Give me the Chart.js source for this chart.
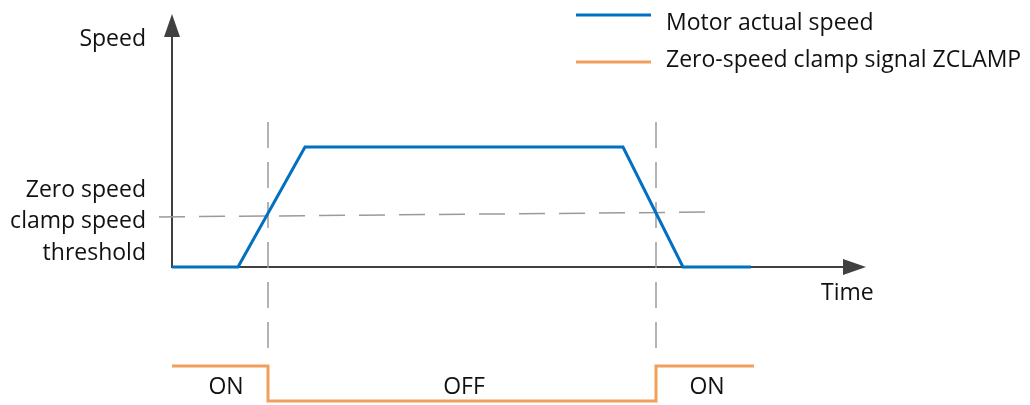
<!DOCTYPE html>
<html>
<head>
<meta charset="utf-8">
<title>Zero-speed clamp</title>
<script src="https://cdn.jsdelivr.net/npm/chart.js@4/dist/chart.umd.min.js"></script>
<style>
  html, body { margin: 0; padding: 0; background: #fff; }
  #wrap { width: 1030px; height: 405px; }
</style>
</head>
<body>
<div id="wrap"><canvas id="chart" width="1030" height="405"></canvas></div>
<script>
"use strict";

// Motor speed profile (time in arbitrary units, speed in % of plateau)
const speedTimes = [0, 6.6, 13.3, 45.1, 51.1, 57.9];
const speedValues = [0, 0, 100, 100, 0, 0];

// ZCLAMP signal, 1 = ON, 0 = OFF
const clampTimes = [0, 9.6, 9.6, 48.4, 48.4, 58.2];
const clampStates = [1, 1, 0, 0, 1, 1];
const clampLabels = ["ON", "OFF", "ON"];

// Zero speed clamp threshold (drawn slightly tilted in the original)
const thresholdTimes = [-1.3, 54.0];
const thresholdValues = [41.7, 45.8];

// Vertical guides where the speed crosses the threshold
const markerTimes = [9.6, 48.4];
const markerSpeedRange = [120.8, -70.8];

const seriesLabels = ["Motor actual speed", "Zero-speed clamp signal ZCLAMP"];

// Axis ends (arrow tips)
const timeAxisEnd = 69.4;
const speedAxisEnd = 210.8;

const COLORS = {
  speed: "#0070c0",
  clamp: "#f0a05a",
  guide: "#9a9a9a",
  axis: "#404040",
  text: "#111111",
};
const FONT = "23px 'Open Sans', sans-serif";

function toPoints(xs, ys) {
  return xs.map((x, i) => ({ x, y: ys[i] }));
}

/**
 * Axes with arrow heads, drawn under the datasets
 */
const axesPlugin = {
  id: "axes",
  beforeDatasetsDraw(chart) {
    const { ctx } = chart;
    const xs = chart.scales.x;
    const ys = chart.scales.y;
    const x0 = xs.getPixelForValue(0);
    const y0 = ys.getPixelForValue(0);
    const xTip = xs.getPixelForValue(timeAxisEnd);
    const yTip = ys.getPixelForValue(speedAxisEnd);
    const head = 23;
    const half = 8;

    ctx.save();
    ctx.strokeStyle = COLORS.axis;
    ctx.fillStyle = COLORS.axis;
    ctx.lineWidth = 2;
    ctx.beginPath();
    ctx.moveTo(x0, y0 + 1);
    ctx.lineTo(x0, yTip + head);
    ctx.moveTo(x0, y0);
    ctx.lineTo(xTip - head, y0);
    ctx.stroke();

    ctx.beginPath();
    ctx.moveTo(x0, yTip);
    ctx.lineTo(x0 - half, yTip + head);
    ctx.lineTo(x0 + half, yTip + head);
    ctx.closePath();
    ctx.fill();

    ctx.beginPath();
    ctx.moveTo(xTip, y0);
    ctx.lineTo(xTip - head, y0 - half);
    ctx.lineTo(xTip - head, y0 + half);
    ctx.closePath();
    ctx.fill();
    ctx.restore();
  },
};

/**
 * Text annotations and the legend
 */
const labelsPlugin = {
  id: "labels",
  afterDatasetsDraw(chart) {
    const { ctx } = chart;
    const xs = chart.scales.x;
    ctx.save();
    ctx.font = FONT;
    ctx.fillStyle = COLORS.text;
    ctx.textBaseline = "alphabetic";

    // y axis texts
    ctx.textAlign = "right";
    ctx.fillText("Speed", 146, 46);
    ctx.fillText("Zero speed", 146, 197);
    ctx.fillText("clamp speed", 146, 228);
    ctx.fillText("threshold", 146, 260);

    ctx.textAlign = "left";
    ctx.fillText("Time", 821, 300);

    // ON / OFF state labels, centred in each segment
    ctx.textAlign = "center";
    const edges = [clampTimes[0], clampTimes[1], clampTimes[3], clampTimes[5]];
    clampLabels.forEach((txt, i) => {
      const mid = (edges[i] + edges[i + 1]) / 2;
      ctx.fillText(txt, xs.getPixelForValue(mid) + (i === 0 ? 6 : 2), 394);
    });

    // legend
    const legendRows = [
      { color: COLORS.speed, y: 15, base: 30 },
      { color: COLORS.clamp, y: 62, base: 67 },
    ];
    ctx.textAlign = "left";
    legendRows.forEach((row, i) => {
      ctx.strokeStyle = row.color;
      ctx.lineWidth = 3;
      ctx.beginPath();
      ctx.moveTo(576, row.y);
      ctx.lineTo(651, row.y);
      ctx.stroke();
      ctx.fillText(seriesLabels[i], 666, row.base);
    });
    ctx.restore();
  },
};

function buildDatasets() {
  const guides = markerTimes.map((t) => ({
    data: toPoints([t, t], markerSpeedRange),
    borderColor: COLORS.guide,
    borderWidth: 1.5,
    borderDash: [26, 14],
    yAxisID: "y",
  }));

  return [
    {
      label: seriesLabels[0],
      data: toPoints(speedTimes, speedValues),
      borderColor: COLORS.speed,
      borderWidth: 3,
      yAxisID: "y",
    },
    {
      label: seriesLabels[1],
      data: toPoints(clampTimes, clampStates),
      borderColor: COLORS.clamp,
      borderWidth: 3,
      yAxisID: "ySig",
    },
    {
      data: toPoints(thresholdTimes, thresholdValues),
      borderColor: COLORS.guide,
      borderWidth: 1.5,
      borderDash: [26, 14],
      yAxisID: "y",
    },
    ...guides,
  ];
}

function initChart() {
  const canvas = document.getElementById("chart");
  new Chart(canvas, {
    type: "line",
    data: { datasets: buildDatasets() },
    options: {
      responsive: false,
      animation: false,
      devicePixelRatio: 1,
      layout: { padding: 0 },
      elements: {
        point: { radius: 0, hoverRadius: 0 },
        line: { tension: 0, fill: false, borderJoinStyle: "miter", clip: false },
      },
      plugins: {
        legend: { display: false },
        tooltip: { enabled: false },
      },
      events: [],
      scales: {
        x: { type: "linear", min: -17.2, max: 85.8, display: false },
        y: { type: "linear", min: -115, max: 222.5, display: false },
        ySig: { type: "linear", min: -0.1143, max: 11.457, display: false },
      },
    },
    plugins: [axesPlugin, labelsPlugin],
  });
}

initChart();
</script>
</body>
</html>
